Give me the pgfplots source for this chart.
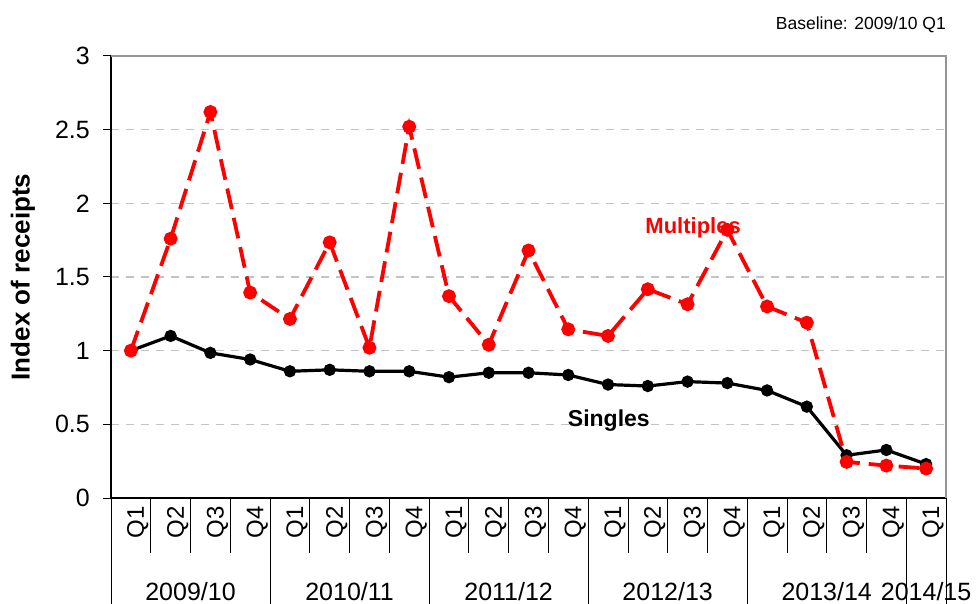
\documentclass[border=0pt]{standalone}
\usepackage{pgfplots}
\pgfplotsset{compat=1.18}
\usepackage{fontspec}
\setmainfont{Liberation Sans}
\definecolor{gridgray}{RGB}{195,195,195}
\definecolor{framegray}{RGB}{150,150,150}
\begin{document}
\begin{tikzpicture}
\path[use as bounding box] (-111pt,-106pt) rectangle (865pt,498pt);
\begin{axis}[
  at={(0pt,0pt)}, anchor=south west,
  scale only axis, width=835pt, height=442pt,
  xmin=-0.5, xmax=20.5, ymin=0, ymax=3,
  clip=false,
  axis x line*=bottom, axis y line*=left,
  axis line style={black, line width=1.1pt, -},
  ytick={0,0.5,...,3},
  yticklabels={0,0.5,1,1.5,2,2.5,3},
  xtick={0,...,20},
  xticklabels={Q1,Q2,Q3,Q4,Q1,Q2,Q3,Q4,Q1,Q2,Q3,Q4,Q1,Q2,Q3,Q4,Q1,Q2,Q3,Q4,Q1},
  xtick style={draw=none},
  ytick style={black, line width=1pt},
  tick align=outside, major tick length=8pt,
  x tick label style={rotate=90, anchor=east, inner sep=0pt, yshift=-7pt,
     font=\fontsize{24}{24}\selectfont},
  y tick label style={font=\fontsize{25}{25}\selectfont, inner sep=0pt, xshift=-13pt},
  /pgf/number format/assume math mode=true,
  ymajorgrids,
  grid style={gridgray, line width=1.2pt, dash pattern=on 8pt off 7pt},
  ylabel={\textbf{Index of receipts}},
  ylabel style={font=\fontsize{26}{26}\selectfont, at={(axis description cs:0,0.5)}, anchor=center, rotate=0, yshift=88pt},
]
% frame top and right
\draw[framegray, line width=1.2pt] (rel axis cs:0,1) -- (rel axis cs:1,1) -- (rel axis cs:1,0);
% category separators
\pgfplotsinvokeforeach{0.5,1.5,2.5,4.5,5.5,6.5,8.5,9.5,10.5,12.5,13.5,14.5,16.5,17.5,18.5}{
  \draw[black, line width=0.8pt] (axis cs:#1,0) -- ++(0pt,-55pt);
}
\pgfplotsinvokeforeach{-0.5,3.5,7.5,11.5,15.5,19.5,20.5}{
  \draw[black, line width=0.8pt] (axis cs:#1,0) -- ++(0pt,-106pt);
}
% year labels
\node[anchor=base, inner sep=0pt, font=\fontsize{25}{25}\selectfont] at (axis cs:1.5,0) [yshift=-102pt] {2009/10};
\node[anchor=base, inner sep=0pt, font=\fontsize{25}{25}\selectfont] at (axis cs:5.5,0) [yshift=-102pt] {2010/11};
\node[anchor=base, inner sep=0pt, font=\fontsize{25}{25}\selectfont] at (axis cs:9.5,0) [yshift=-102pt] {2011/12};
\node[anchor=base, inner sep=0pt, font=\fontsize{25}{25}\selectfont] at (axis cs:13.5,0) [yshift=-102pt] {2012/13};
\node[anchor=base, inner sep=0pt, font=\fontsize{25}{25}\selectfont] at (axis cs:17.5,0) [yshift=-102pt] {2013/14};
\node[anchor=base, inner sep=0pt, font=\fontsize{25}{25}\selectfont] at (axis cs:20,0) [yshift=-102pt] {2014/15};
% Singles
\addplot[black, line width=3.2pt, mark=*, mark size=4.5pt, mark options={solid, fill=black}]
 coordinates {
 (0,1.00) (1,1.10) (2,0.985) (3,0.94)
 (4,0.86) (5,0.87) (6,0.86) (7,0.86)
 (8,0.82) (9,0.85) (10,0.85) (11,0.835)
 (12,0.77) (13,0.76) (14,0.79) (15,0.78)
 (16,0.73) (17,0.62) (18,0.29) (19,0.326)
 (20,0.23)
 };
% Multiples
\addplot[red, line width=3.8pt, dash pattern=on 21pt off 9pt, mark=*, mark size=5pt, mark options={solid, fill=red}]
 coordinates {
 (0,1.00) (1,1.76) (2,2.62) (3,1.394)
 (4,1.215) (5,1.735) (6,1.02) (7,2.52)
 (8,1.37) (9,1.04) (10,1.68) (11,1.145)
 (12,1.10) (13,1.417) (14,1.315) (15,1.82)
 (16,1.30) (17,1.19) (18,0.245) (19,0.22)
 (20,0.20)
 };
\node[red, anchor=base, inner sep=0pt, font=\bfseries\fontsize{22}{22}\selectfont] at (axis cs:14.14,1.797) {Multiples};
\node[black, anchor=base, inner sep=0pt, font=\bfseries\fontsize{23}{23}\selectfont] at (axis cs:12.02,0.482) {Singles};
\node[anchor=base east, inner sep=0pt, font=\fontsize{17.5}{17.5}\selectfont] at (rel axis cs:1,1) [yshift=26pt] {Baseline: 2009/10 Q1};
\end{axis}
\end{tikzpicture}
\end{document}
